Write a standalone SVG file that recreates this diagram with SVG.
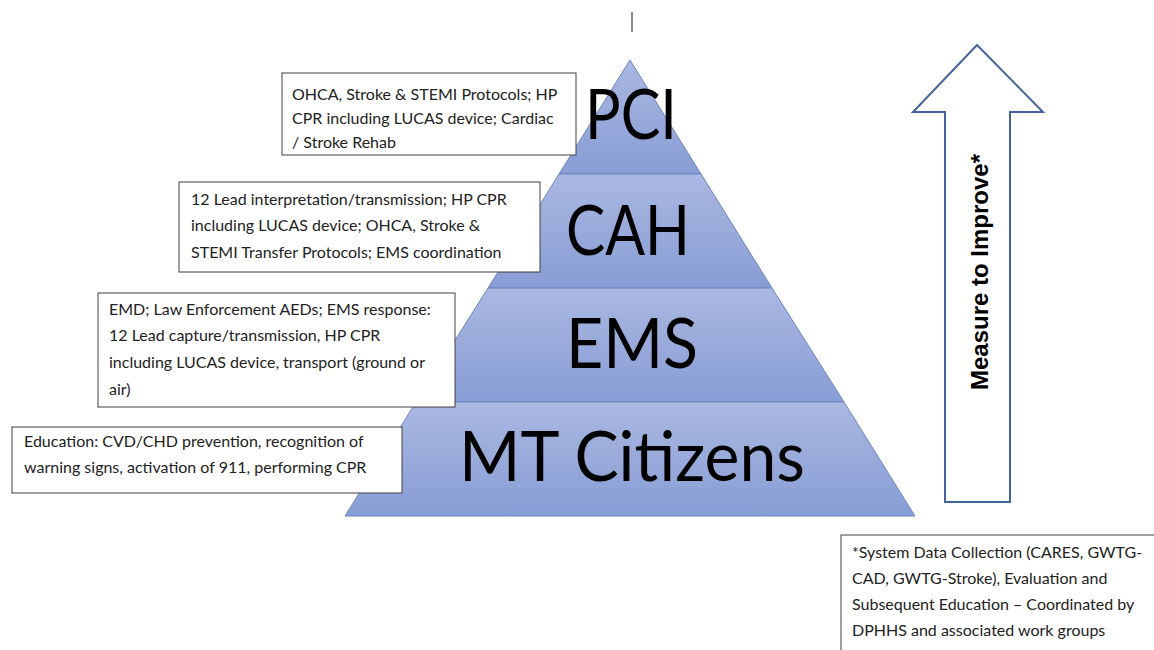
<svg xmlns="http://www.w3.org/2000/svg" width="1154" height="650" viewBox="0 0 1154 650">
<defs>
<linearGradient id="tier" x1="0" y1="0" x2="0" y2="1">
<stop offset="0" stop-color="#aab8e1"/>
<stop offset="1" stop-color="#889dd5"/>
</linearGradient>
<style>
.tier{fill:url(#tier);stroke:#6e85c2;stroke-width:1}
.big{font-family:Lato,"Liberation Sans",sans-serif;font-size:70px;fill:#000;text-anchor:middle}
.box{fill:#fff;stroke:#404040;stroke-width:1}
.bt{font-family:Lato,"Liberation Sans",sans-serif;font-size:16px;fill:#222}
.arrow{fill:#fff;stroke:#45649a;stroke-width:2}
.mt{font-family:"Liberation Sans",Arial,sans-serif;font-size:24px;font-weight:bold;fill:#000;text-anchor:middle}
</style>
</defs>
<rect width="1154" height="650" fill="#fff"/>
<line x1="632" y1="12" x2="632" y2="32" stroke="#666" stroke-width="1.5"/>
<g id="pyramid">
<g id="tier-pci"><polygon class="tier" points="630,60 701,174 559,174"/><text class="big" x="631" y="139" textLength="92" lengthAdjust="spacingAndGlyphs">PCI</text></g>
<g id="tier-cah"><polygon class="tier" points="559,174 701,174 772,288 488,288"/><text class="big" x="628" y="255" textLength="124" lengthAdjust="spacingAndGlyphs">CAH</text></g>
<g id="tier-ems"><polygon class="tier" points="488,288 772,288 844,402 416,402"/><text class="big" x="632" y="368" textLength="132" lengthAdjust="spacingAndGlyphs">EMS</text></g>
<g id="tier-mt"><polygon class="tier" points="416,402 844,402 915,516 345,516"/><text class="big" x="632" y="481" textLength="346" lengthAdjust="spacingAndGlyphs">MT Citizens</text></g>
</g>
<g id="box-pci">
<rect class="box" x="282" y="73" width="294" height="82"/>
<text class="bt"><tspan x="292" y="100">OHCA, Stroke &amp; STEMI Protocols; HP</tspan><tspan x="292" y="124">CPR including LUCAS device; Cardiac</tspan><tspan x="292" y="148">/ Stroke Rehab</tspan></text>
</g>
<g id="box-cah">
<rect class="box" x="179" y="182" width="361" height="90"/>
<text class="bt"><tspan x="191" y="205">12 Lead interpretation/transmission; HP CPR</tspan><tspan x="191" y="231">including LUCAS device; OHCA, Stroke &amp;</tspan><tspan x="191" y="258">STEMI Transfer Protocols; EMS coordination</tspan></text>
</g>
<g id="box-ems">
<rect class="box" x="98" y="293" width="357" height="114"/>
<text class="bt"><tspan x="109" y="315">EMD; Law Enforcement AEDs; EMS response:</tspan><tspan x="109" y="341">12 Lead capture/transmission, HP CPR</tspan><tspan x="109" y="368">including LUCAS device, transport (ground or</tspan><tspan x="109" y="395">air)</tspan></text>
</g>
<g id="box-mt">
<rect class="box" x="12" y="427" width="390" height="66"/>
<text class="bt"><tspan x="24" y="447">Education: CVD/CHD prevention, recognition of</tspan><tspan x="24" y="473">warning signs, activation of 911, performing CPR</tspan></text>
</g>
<g id="measure-arrow">
<polygon class="arrow" points="977,45 1043,112 1010,112 1010,502 945,502 945,112 913,112"/>
<text class="mt" transform="translate(988,272) rotate(-90)">Measure to Improve*</text>
</g>
<g id="box-data">
<rect class="box" x="841" y="535" width="330" height="130"/>
<text class="bt"><tspan x="852" y="558">*System Data Collection (CARES, GWTG-</tspan><tspan x="852" y="584">CAD, GWTG-Stroke), Evaluation and</tspan><tspan x="852" y="610">Subsequent Education – Coordinated by</tspan><tspan x="852" y="636">DPHHS and associated work groups</tspan></text>
</g>
<g id="connectors"></g>
</svg>
